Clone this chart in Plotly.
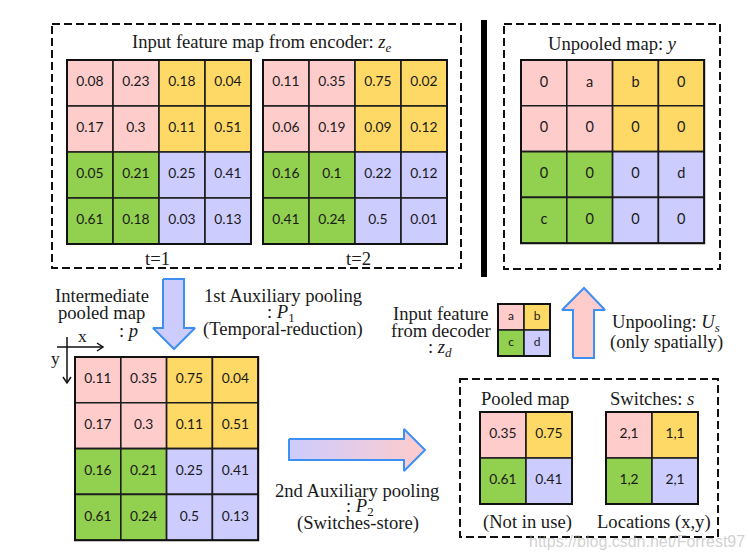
import plotly.graph_objects as go

W, H = 749, 560

# ---------------- data ----------------
ze_t1 = [[0.08, 0.23, 0.18, 0.04],
         [0.17, 0.3, 0.11, 0.51],
         [0.05, 0.21, 0.25, 0.41],
         [0.61, 0.18, 0.03, 0.13]]
ze_t2 = [[0.11, 0.35, 0.75, 0.02],
         [0.06, 0.19, 0.09, 0.12],
         [0.16, 0.1, 0.22, 0.12],
         [0.41, 0.24, 0.5, 0.01]]
pooled_p = [[0.11, 0.35, 0.75, 0.04],
            [0.17, 0.3, 0.11, 0.51],
            [0.16, 0.21, 0.25, 0.41],
            [0.61, 0.24, 0.5, 0.13]]
unpooled_y = [["0", "a", "b", "0"],
              ["0", "0", "0", "0"],
              ["0", "0", "0", "d"],
              ["c", "0", "0", "0"]]
zd_vals = [["a", "b"], ["c", "d"]]
pooled_map = [[0.35, 0.75], [0.61, 0.41]]
switches = [["2,1", "1,1"], ["1,2", "2,1"]]

# quadrant colours: top-left, top-right, bottom-left, bottom-right
quad_colors = [["#FFCCCC", "#FFD966"], ["#92D050", "#CCCCFF"]]

SERIF = "Liberation Serif, Times New Roman, serif"
SANS = "Lato, Carlito, Calibri, sans-serif"
BLUE = "#3D8FF2"
FS = 18.6

fig = go.Figure()
shapes = []
annotations = []


def grid(x0, y0, cell, values, fsize):
    n = len(values)
    half = n // 2
    xs, ys, ts = [], [], []
    for r in range(n):
        for c in range(n):
            col = quad_colors[r // half][c // half]
            shapes.append(dict(type="rect", x0=x0 + c * cell, x1=x0 + (c + 1) * cell,
                               y0=y0 + r * cell, y1=y0 + (r + 1) * cell,
                               fillcolor=col, line=dict(color="#1c1c1c", width=1.6),
                               layer="below"))
            xs.append(x0 + (c + 0.5) * cell)
            ys.append(y0 + (r + 0.5) * cell)
            ts.append(str(values[r][c]))
    shapes.append(dict(type="rect", x0=x0, x1=x0 + n * cell, y0=y0, y1=y0 + n * cell,
                       line=dict(color="#111", width=2), layer="below"))
    fig.add_trace(go.Scatter(x=xs, y=ys, text=ts, mode="text",
                             textfont=dict(family=SANS, size=fsize, color="#1a1a1a"),
                             hoverinfo="skip", showlegend=False))


def label(x, y, text, size=FS, family=SERIF, color="#1a1a1a", xanchor="center"):
    annotations.append(dict(x=x, y=y, text=text, showarrow=False, xanchor=xanchor,
                            yanchor="middle", font=dict(family=family, size=size, color=color)))


def dashed(x0, y0, x1, y1):
    shapes.append(dict(type="rect", x0=x0, y0=y0, x1=x1, y1=y1,
                       line=dict(color="#111", width=2, dash="8px,4px")))


# dashed frames
dashed(52, 24, 461, 268)
dashed(504, 24, 720, 269)
dashed(460, 379, 718, 537)

# thick separator
shapes.append(dict(type="line", x0=484, x1=484, y0=20, y1=277,
                   line=dict(color="black", width=6)))

# grids
grid(67, 60, 46, ze_t1, 13.8)
grid(263, 60, 46, ze_t2, 13.8)
grid(521, 60, 45.8, unpooled_y, 14.5)
grid(75, 357, 45.8, pooled_p, 13.8)
grid(498, 304, 26, zd_vals, 12)
grid(480, 412, 46, pooled_map, 13.8)
grid(606, 412, 46, switches, 13.8)

# arrows
down = [(163, 279), (184, 279), (184, 328), (195, 328), (174, 349), (153, 328), (163, 328), (163, 279)]
up = [(573, 358), (594, 358), (594, 310), (605, 310), (584, 288), (562, 310), (573, 310), (573, 358)]
right = [(289, 439), (404, 439), (404, 429), (425, 450), (404, 471), (404, 460), (289, 460), (289, 439)]

fig.add_trace(go.Scatter(x=[p[0] for p in down], y=[p[1] for p in down], mode="lines",
                         fill="toself", fillcolor="#CCCCFF", line=dict(color=BLUE, width=2),
                         hoverinfo="skip", showlegend=False))
fig.add_trace(go.Scatter(x=[p[0] for p in up], y=[p[1] for p in up], mode="lines",
                         fill="toself", fillcolor="#FFCCCC", line=dict(color=BLUE, width=2),
                         hoverinfo="skip", showlegend=False))
fig.add_trace(go.Scatter(x=[p[0] for p in right], y=[p[1] for p in right], mode="lines",
                         fill="toself",
                         fillgradient=dict(type="horizontal",
                                           colorscale=[[0, "#CCCCFF"], [1, "#FFCCCC"]]),
                         line=dict(color=BLUE, width=2),
                         hoverinfo="skip", showlegend=False))

# x / y coordinate arrows (open chevron heads)
AX = dict(color="#111", width=1.5)
shapes.append(dict(type="line", x0=57, x1=103, y0=347, y1=347, line=AX))
shapes.append(dict(type="path", path="M 97 343 L 103 347 L 97 351", line=AX))
shapes.append(dict(type="line", x0=67, x1=67, y0=337, y1=383, line=AX))
shapes.append(dict(type="path", path="M 63 377 L 67 383 L 71 377", line=AX))
label(82, 336, "x", 17.5)
label(55, 358, "y", 17.5)

# texts
label(262, 43, "Input feature map from encoder: <i>z<sub>e</sub></i>")
label(157, 258, "t=1")
label(358, 258, "t=2")
label(612, 43, "Unpooled map: <i>y</i>")
label(102, 295, "Intermediate")
label(101, 312, "pooled map")
label(128, 330, ": <i>p</i>")
label(283, 295, "1st Auxiliary pooling")
label(281, 313, ": <i>P</i><sub>1</sub>")
label(283, 329, "(Temporal-reduction)")
label(441, 313, "Input feature")
label(441, 330, "from decoder")
label(440, 348, ": <i>z<sub>d</sub></i>")
label(666, 323, "Unpooling: <i>U<sub>s</sub></i>")
label(666, 342, "(only spatially)")
label(357, 490, "2nd Auxiliary pooling")
label(360, 507, ": <i>P</i><sub>2</sub>")
label(358, 523, "(Switches-store)")
label(525, 398, "Pooled map")
label(652, 398, "Switches: <i>s</i>")
label(527, 522, "(Not in use)")
label(654, 522, "Locations (x,y)")

# watermark
label(637, 541, "https://blog.csdn.net/Forrest97", 16, "Liberation Sans, Arial, sans-serif",
      "rgba(170,170,170,0.55)")

fig.update_layout(
    width=W, height=H,
    margin=dict(l=0, r=0, t=0, b=0),
    paper_bgcolor="white", plot_bgcolor="white",
    xaxis=dict(range=[0, W], visible=False, fixedrange=True),
    yaxis=dict(range=[H, 0], visible=False, fixedrange=True),
    shapes=shapes, annotations=annotations, showlegend=False,
)

fig.write_html("out.html", config=dict(displayModeBar=False),
               post_script="document.body.style.margin='0';document.body.style.overflow='hidden';")
